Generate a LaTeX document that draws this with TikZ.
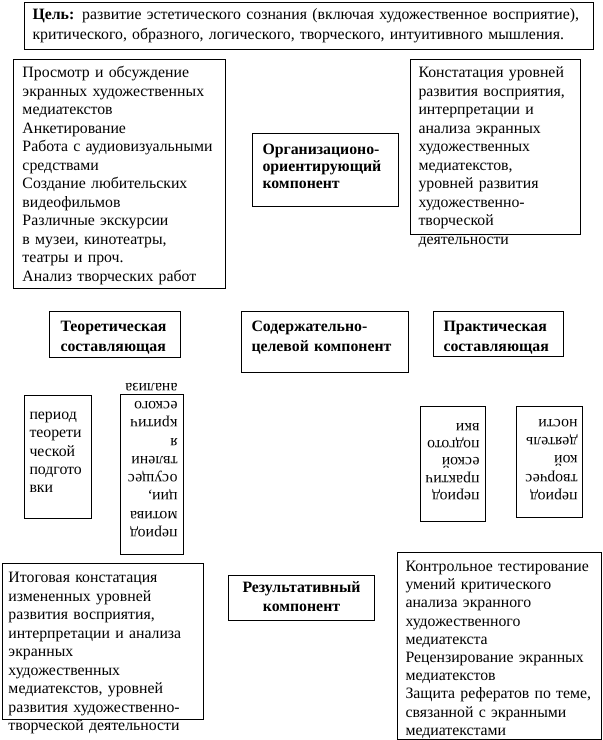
\documentclass[tikz,border=0pt]{standalone}
\usepackage{fontspec}
\setmainfont{Liberation Serif}
\usepackage{tikz}
\usetikzlibrary{positioning}
\newcommand{\bodyfont}{\fontsize{15.8}{18.5}\selectfont}
\newcommand{\headfont}{\fontsize{15.8}{20}\selectfont\bfseries}
\tikzset{
  every node/.style={text=black},
  blk/.style={draw=black,line width=1pt,anchor=north west,align=left,inner ysep=0pt,font=\bodyfont},
  headbox/.style={blk,font=\headfont},
  flipbox/.style={blk,rotate=180},
}

\begin{document}
\begin{tikzpicture}[x=1pt,y=-1pt]
\useasboundingbox (0,0) rectangle (603,740);

\node[blk,font=\fontsize{15.8}{20}\selectfont,inner xsep=8pt,text width=553pt,text height=17pt,text depth=30pt] (goal) at (24,2)
{\textbf{Цель:} развитие эстетического сознания (включая художественное восприятие),\\критического, образного, логического, творческого, интуитивного мышления.};

\node[blk,inner xsep=9pt,text width=194pt,text height=18pt,text depth=211pt] (methods) at (13,59)
{Просмотр и обсуждение\\экранных художественных\\медиатекстов\\Анкетирование\\Работа с аудиовизуальными\\средствами\\Создание любительских\\видеофильмов\\Различные экскурсии\\в музеи, кинотеатры,\\театры и проч.\\Анализ творческих работ};

\node[headbox,font=\fontsize{15.8}{17}\selectfont\bfseries,inner xsep=10pt,text width=126pt,text height=21pt,text depth=52pt] (org) at (252,133)
{Организационо-\\ориентирующий\\компонент};

\node[blk,inner xsep=8pt,text width=154pt,text height=18pt,text depth=157pt] (levels) at (410,59)
{Констатация уровней\\развития восприятия,\\интерпретации и\\анализа экранных\\художественных\\медиатекстов,\\уровней развития\\художественно-\\творческой\\деятельности};

\node[headbox,inner xsep=11pt,text width=109pt,text height=20pt,text depth=26pt] (theory) at (49,311)
{Теоретическая\\составляющая};
\node[headbox,inner xsep=10pt,text width=147pt,text height=20pt,text depth=41pt] (content) at (241,311)
{Содержательно-\\целевой компонент};
\node[headbox,inner xsep=10pt,text width=110pt,text height=20pt,text depth=25pt] (practice) at (433,311)
{Практическая\\составляющая};

\node[blk,font=\fontsize{15.8}{18.3}\selectfont,inner xsep=5pt,text width=57pt,text height=24pt,text depth=99pt] (pertheory) at (24,395)
{период\\теорети\\ческой\\подгото\\вки};
\node[flipbox,font=\fontsize{15.8}{18.3}\selectfont,inner xsep=6pt,text width=51pt,text height=25pt,text depth=135pt] (permotiv) at (184,555)
{период\\мотива\\ции,\\осущес\\твлени\\я\\критич\\еского\\анализа};
\node[flipbox,font=\fontsize{15.8}{17.3}\selectfont,inner xsep=6pt,text width=53pt,text height=29pt,text depth=86pt] (perpract) at (486,522)
{период\\практич\\еской\\подгото\\вки};
\node[flipbox,font=\fontsize{15.8}{18.3}\selectfont,inner xsep=5pt,text width=56pt,text height=25pt,text depth=86pt] (percreat) at (583,518)
{период\\творчес\\кой\\деятель\\ности};

\node[blk,inner xsep=6pt,text width=189pt,text height=19pt,text depth=137pt] (final) at (2,563)
{Итоговая констатация\\измененных уровней\\развития восприятия,\\интерпретации и анализа\\экранных\\художественных\\медиатекстов, уровней\\развития художественно-\\творческой деятельности};

\node[headbox,align=center,font=\fontsize{15.8}{19}\selectfont\bfseries,inner xsep=8pt,text width=130pt,text height=17pt,text depth=28pt] (result) at (228,575)
{Результативный\\компонент};

\node[blk,font=\fontsize{15.8}{18.2}\selectfont,inner xsep=8pt,text width=188pt,text height=19pt,text depth=168pt] (control) at (397,552)
{Контрольное тестирование\\умений критического\\анализа экранного\\художественного\\медиатекста\\Рецензирование экранных\\медиатекстов\\Защита рефератов по теме,\\связанной с экранными\\медиатекстами};

\end{tikzpicture}
\end{document}
